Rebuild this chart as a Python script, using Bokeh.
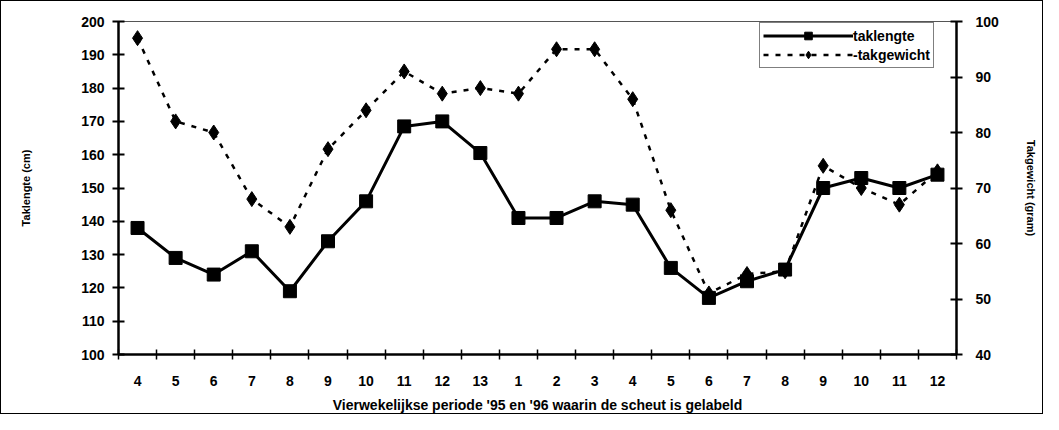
from bokeh.plotting import figure
from bokeh.models import (ColumnDataSource, LinearAxis, Range1d, FixedTicker,
                          Legend, LegendItem)
from bokeh.embed import file_html
from bokeh.resources import INLINE

periods = ["4", "5", "6", "7", "8", "9", "10", "11", "12", "13", "1", "2",
           "3", "4", "5", "6", "7", "8", "9", "10", "11", "12"]
taklengte = [138, 129, 124, 131, 119, 134, 146, 168.5, 170, 160.5, 141, 141,
             146, 145, 126, 117, 122, 125.5, 150, 153, 150, 154]
takgewicht = [97, 82, 80, 68, 63, 77, 84, 91, 87, 88, 87, 95,
              95, 86, 66, 51, 54.5, 55, 74, 70, 67, 73]

n = len(periods)
xs = list(range(n))
src = ColumnDataSource(dict(x=xs, lengte=taklengte, gewicht=takgewicht))

FONT = "Liberation Sans"

p = figure(width=1043, height=414, output_backend="svg", toolbar_location=None,
           x_range=Range1d(-0.5, n - 0.5), y_range=Range1d(100, 200),
           min_border_left=117, min_border_right=88, min_border_top=20,
           min_border_bottom=61)
p.extra_y_ranges = {"gram": Range1d(40, 100)}
p.xgrid.visible = False
p.ygrid.visible = False
p.outline_line_color = "#555555"
p.outline_line_width = 1
p.background_fill_color = "white"
p.border_fill_color = "white"
p.styles = {"border": "1.5px solid black"}

# x axis: labels at centres, ticks on category boundaries
p.xaxis.ticker = FixedTicker(ticks=xs, minor_ticks=[i - 0.5 for i in range(n + 1)])
p.xaxis.major_label_overrides = {i: lab for i, lab in enumerate(periods)}
p.xaxis.major_tick_in = 0
p.xaxis.major_tick_out = 0
p.xaxis.minor_tick_in = 5
p.xaxis.minor_tick_out = 5
p.xaxis.minor_tick_line_width = 1.5
p.xaxis.axis_line_width = 2.5
p.xaxis.major_label_standoff = 16
p.xaxis.axis_label = "Vierwekelijkse periode '95 en '96 waarin de scheut is gelabeld"
p.xaxis.axis_label_standoff = 8

# left axis
p.yaxis.ticker = FixedTicker(ticks=list(range(100, 201, 10)))
p.yaxis.axis_label = "Taklengte (cm)"
p.yaxis.axis_label_standoff = 46

right = LinearAxis(y_range_name="gram", ticker=FixedTicker(ticks=list(range(40, 101, 10))),
                   axis_label="Takgewicht (gram)")
p.add_layout(right, "right")

for ax in [p.yaxis[0], right]:
    ax.major_tick_in = 6
    ax.major_tick_out = 6
    ax.major_tick_line_width = 2
    ax.minor_tick_line_color = None
    ax.axis_line_width = 2.5
    ax.major_label_standoff = 8
    ax.axis_label_text_font_size = "11px"
right.major_label_standoff = 13
right.axis_label_standoff = 23

for ax in [p.xaxis[0], p.yaxis[0], right]:
    ax.major_label_text_font = FONT
    ax.major_label_text_font_style = "bold"
    ax.major_label_text_font_size = "14px"
    ax.major_label_text_color = "black"
    ax.axis_label_text_font = FONT
    ax.axis_label_text_font_style = "bold"
    ax.axis_label_text_color = "black"
    ax.axis_line_color = "black"
    ax.major_tick_line_color = "black"
    ax.minor_tick_line_color = "black" if ax is p.xaxis[0] else None
p.xaxis.axis_label_text_font_size = "14px"

l1 = p.line("x", "lengte", source=src, line_color="black", line_width=3)
m1 = p.scatter("x", "lengte", source=src, marker="square", size=13,
               fill_color="black", line_color="black")
l2 = p.line("x", "gewicht", source=src, y_range_name="gram", line_color="black",
            line_width=2.5, line_dash="5 7")
m2 = p.scatter("x", "gewicht", source=src, y_range_name="gram", marker="diamond",
               size=15, fill_color="black", line_color="black")

legend = Legend(items=[LegendItem(label="taklengte", renderers=[l1, m1]),
                       LegendItem(label="-takgewicht", renderers=[l2, m2])],
                location=(641, 286))
legend.border_line_color = "black"
legend.border_line_width = 1.5
legend.background_fill_alpha = 1
legend.label_text_font = FONT
legend.label_text_font_style = "bold"
legend.label_text_font_size = "14px"
legend.label_text_color = "black"
legend.glyph_width = 90
legend.glyph_height = 19
legend.label_standoff = 0
legend.spacing = 0
legend.padding = 3
legend.margin = 0
legend.label_height = 19
p.add_layout(legend)

open("out.html", "w").write(file_html(p, INLINE))
